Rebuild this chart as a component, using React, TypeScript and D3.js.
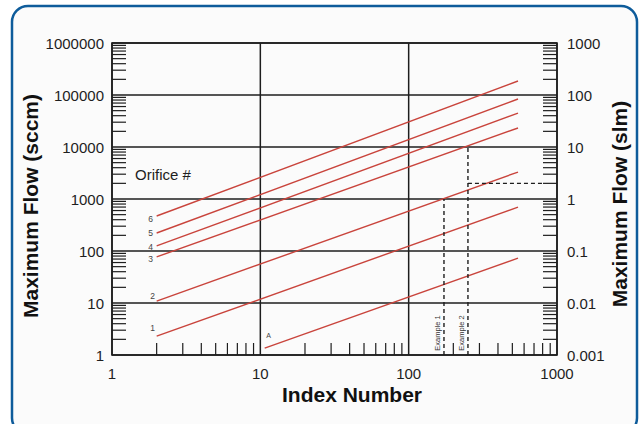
import React from "react";
import * as d3 from "d3";

// orifice lines (start / end points)
const orificeNames = ["A", "1", "2", "3", "4", "5", "6"];
const startIndex = [10.7, 2, 2, 2, 2, 2, 2];
const endIndex = [546, 546, 546, 546, 546, 546, 546];
const startFlow = [1.36, 2.3, 10.9, 77, 125, 222, 471];
const endFlow = [73, 700, 3300, 23200, 45000, 83800, 186000];

// worked examples
const exampleNames = ["Example 1", "Example 2"];
const exampleIndex = [173, 251];
const exampleFlow = [1000, 10000];
const example2Slm = 2;

const xTickLabels = ["1", "10", "100", "1000"];
const yTickLabels = ["1", "10", "100", "1000", "10000", "100000", "1000000"];
const y2TickLabels = ["0.001", "0.01", "0.1", "1", "10", "100", "1000"];

const W = 641;
const H = 424;
const left = 112;
const right = 557;
const top = 43;
const bottom = 355;

const FONT = "'Liberation Sans', Arial, Helvetica, sans-serif";
const RED = "#c9443c";
const INK = "#1e1e1e";

const isDecade = (v: number) => Math.abs(Math.log10(v) - Math.round(Math.log10(v))) < 1e-9;

// label nudges for the little orifice numbers
const labelNudge: Record<string, [number, number]> = {
  A: [4, -13],
  "1": [-4, -8],
  "2": [-4, -5],
  "3": [-6, 2],
  "4": [-6, 1],
  "5": [-6, 0],
  "6": [-6, 3],
};

export default function App() {
  const x = d3.scaleLog().domain([1, 1000]).range([left, right]);
  const y = d3.scaleLog().domain([1, 1e6]).range([bottom, top]);
  const y2 = d3.scaleLog().domain([0.001, 1000]).range([bottom, top]);

  const xMinor = x.ticks().filter((v) => !isDecade(v));
  const yMinor = y.ticks().filter((v) => !isDecade(v));
  const y2Minor = y2.ticks().filter((v) => !isDecade(v));
  const yMajor = yTickLabels.map(Number);
  const y2Major = y2TickLabels.map(Number);
  const xMajor = xTickLabels.map(Number);

  const line = d3
    .line<[number, number]>()
    .x((d) => x(d[0]))
    .y((d) => y(d[1]));

  return (
    <div style={{ position: "absolute", left: 0, top: 0 }}>
      <svg width={W} height={H} style={{ display: "block", fontFamily: FONT }}>
        <rect x={0} y={0} width={W} height={H} fill="#fff" />
        <rect x={12} y={6} width={625} height={428} rx={16} fill="#fbfbfb" stroke="#0e5c9b" strokeWidth={2.5} />

        {/* decade grid */}
        {yMajor.map((v) => (
          <line key={"gy" + v} x1={left} x2={right} y1={y(v)} y2={y(v)} stroke={INK} strokeWidth={1.5} />
        ))}
        {xMajor.map((v) => (
          <line key={"gx" + v} x1={x(v)} x2={x(v)} y1={top} y2={bottom} stroke={INK} strokeWidth={1.5} />
        ))}

        {/* minor ticks */}
        {yMinor.map((v) => (
          <line key={"ly" + v} x1={left} x2={left + 14} y1={y(v)} y2={y(v)} stroke={INK} strokeWidth={1.2} />
        ))}
        {y2Minor.map((v) => (
          <line key={"ry" + v} x1={right - 14} x2={right} y1={y2(v)} y2={y2(v)} stroke={INK} strokeWidth={1.2} />
        ))}
        {xMinor.map((v) => (
          <line key={"bx" + v} x1={x(v)} x2={x(v)} y1={bottom - 12} y2={bottom} stroke={INK} strokeWidth={1.2} />
        ))}

        {/* orifice lines */}
        {orificeNames.map((name, i) => {
          const [dx, dy] = labelNudge[name];
          return (
            <g key={"o" + name}>
              <path
                d={line([
                  [startIndex[i], startFlow[i]],
                  [endIndex[i], endFlow[i]],
                ]) || ""}
                fill="none"
                stroke={RED}
                strokeWidth={1.4}
              />
              <text
                x={x(startIndex[i]) + dx}
                y={y(startFlow[i]) + dy}
                fontSize={name === "A" ? 7 : 8.5}
                fill="#444"
                textAnchor="middle"
                dominantBaseline="central"
              >
                {name}
              </text>
            </g>
          );
        })}

        {/* examples */}
        {exampleNames.map((name, i) => (
          <g key={name}>
            <line
              x1={x(exampleIndex[i])}
              x2={x(exampleIndex[i])}
              y1={bottom}
              y2={y(exampleFlow[i])}
              stroke={INK}
              strokeWidth={1.4}
              strokeDasharray="4,3"
            />
            <text
              transform={`translate(${x(exampleIndex[i]) - 4},${bottom - 22}) rotate(-90)`}
              fontSize={7.5}
              fill="#333"
              textAnchor="middle"
            >
              {name}
            </text>
          </g>
        ))}
        <line
          x1={x(exampleIndex[1])}
          x2={right - 15}
          y1={y2(example2Slm)}
          y2={y2(example2Slm)}
          stroke={INK}
          strokeWidth={1.4}
          strokeDasharray="4,3"
        />

        {/* frame */}
        <rect x={left} y={top} width={right - left} height={bottom - top} fill="none" stroke={INK} strokeWidth={1.6} />

        <text x={135} y={180} fontSize={15} fill={INK}>
          Orifice #
        </text>

        {/* tick labels */}
        {yTickLabels.map((t, i) => (
          <text key={"yl" + t} x={104} y={y(yMajor[i])} fontSize={15} fill={INK} textAnchor="end" dominantBaseline="central">
            {t}
          </text>
        ))}
        {y2TickLabels.map((t, i) => (
          <text key={"y2l" + t} x={567} y={y2(y2Major[i])} fontSize={15} fill={INK} dominantBaseline="central">
            {t}
          </text>
        ))}
        {xTickLabels.map((t, i) => (
          <text key={"xl" + t} x={x(xMajor[i])} y={379} fontSize={15} fill={INK} textAnchor="middle">
            {t}
          </text>
        ))}

        {/* axis titles */}
        <text x={352} y={402} fontSize={21} fontWeight="bold" textAnchor="middle" fill="#111">
          Index Number
        </text>
        <text transform="translate(37.5,206) rotate(-90)" fontSize={21} fontWeight="bold" textAnchor="middle" fill="#111">
          Maximum Flow (sccm)
        </text>
        <text transform="translate(627,204) rotate(-90)" fontSize={21} fontWeight="bold" textAnchor="middle" fill="#111">
          Maximum Flow (slm)
        </text>
      </svg>
    </div>
  );
}
